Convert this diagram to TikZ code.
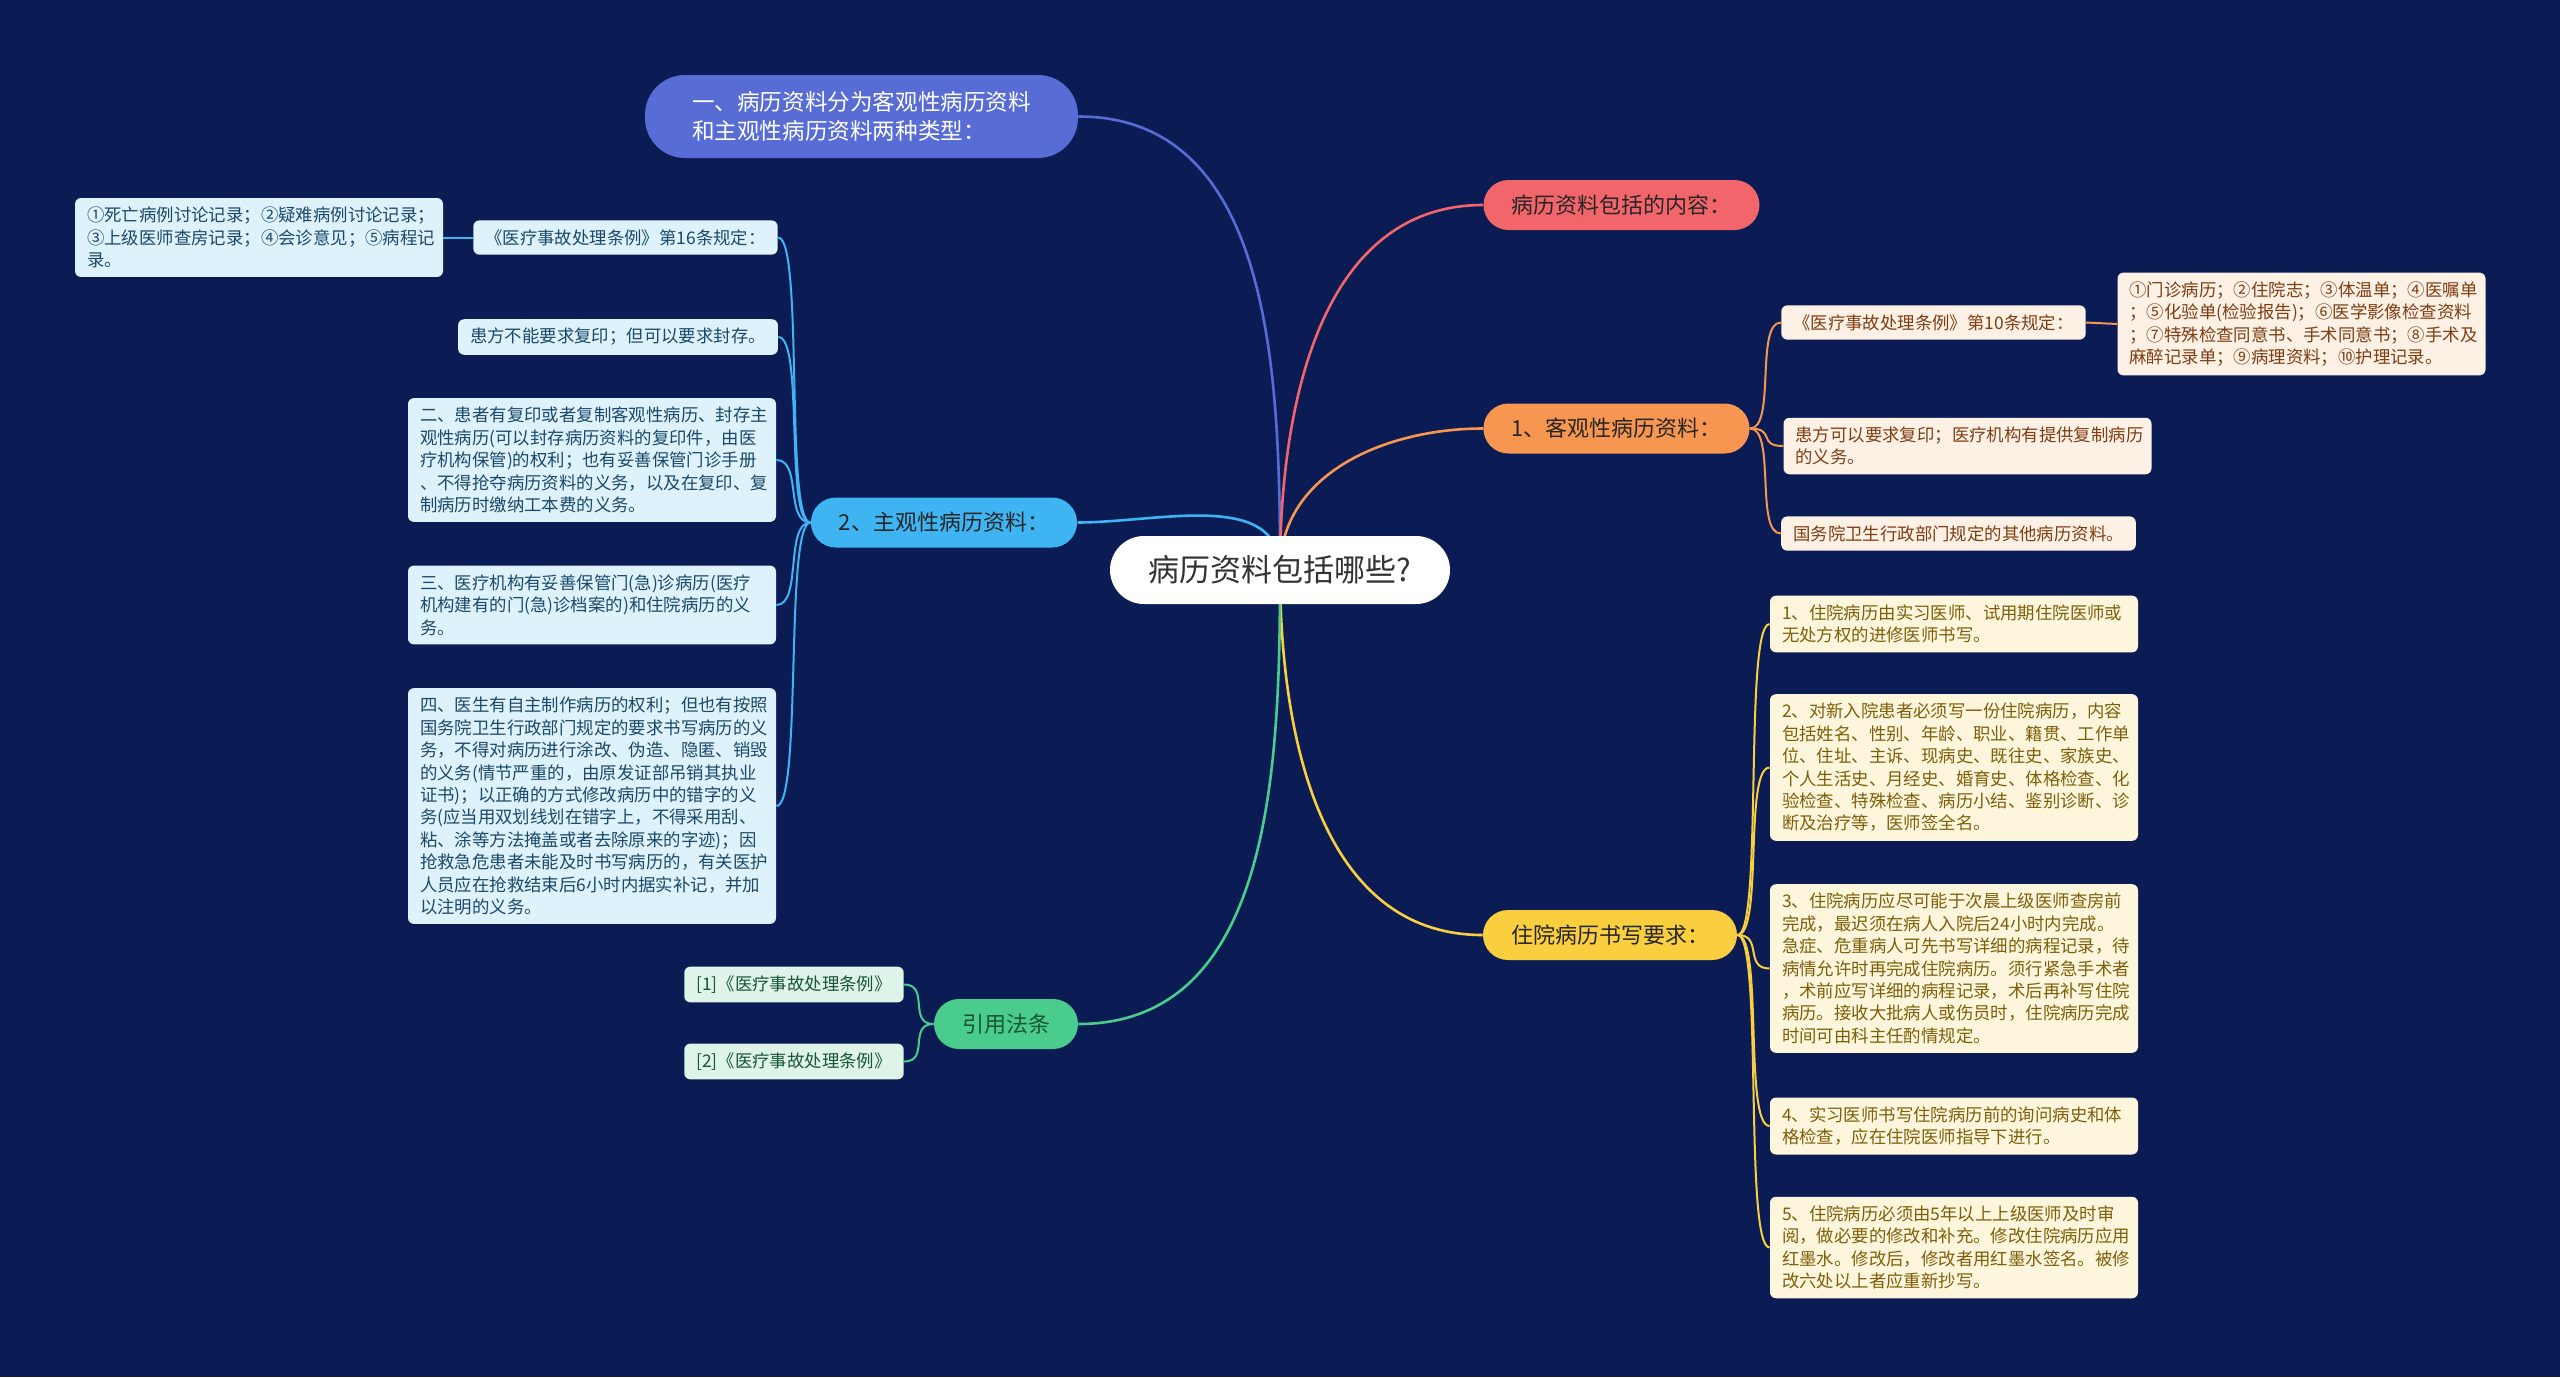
\documentclass[tikz,border=0pt]{standalone}
\usepackage{fontspec}
\setmainfont{Noto Sans CJK SC}
\definecolor{bgnavy}{RGB}{11,28,85}
\definecolor{c1}{RGB}{88,108,214}
\definecolor{c2}{RGB}{242,101,106}
\definecolor{c3}{RGB}{247,150,80}
\definecolor{c4}{RGB}{249,207,64}
\definecolor{c5}{RGB}{62,180,242}
\definecolor{c6}{RGB}{74,205,140}
\definecolor{f3}{RGB}{253,240,228}
\definecolor{f4}{RGB}{254,246,220}
\definecolor{f5}{RGB}{221,242,251}
\definecolor{f6}{RGB}{222,244,233}
\definecolor{t3}{RGB}{125,62,20}
\definecolor{t4}{RGB}{125,95,10}
\definecolor{t5}{RGB}{28,72,105}
\definecolor{t6}{RGB}{25,85,55}
\pgfdeclarelayer{edges}
\pgfsetlayers{edges,main}

\begin{document}
\begin{tikzpicture}
[every node/.style={inner sep=0pt},
 root/.style={rounded corners=17pt, minimum width=170pt, minimum height=34pt, fill=white, text=black!80, font=\fontsize{15.5}{18}\selectfont},
 branch/.style={rounded corners=12.5pt, minimum height=25pt, inner xsep=14pt, text=black!85, font=\fontsize{11}{13}\selectfont},
 leaf/.style={rounded corners=3pt, inner xsep=6pt, inner ysep=4.5pt, align=left, font=\fontsize{8.7}{11.2}\selectfont},
 wideleaf/.style={leaf, text width=172pt},
 limb/.style={line width=1.3pt},
 twig/.style={line width=1pt, distance=13pt}]
\useasboundingbox (0pt,0pt) rectangle (1280pt,-688.5pt);
% centre and main branches
\node (root) [root] at (640pt, -285pt) {病历资料包括哪些?};
\node (kinds) [branch, fill=c1, text=white, align=left, rounded corners=20pt, inner xsep=21pt, minimum width=216.5pt, minimum height=41.5pt, font=\fontsize{11.3}{14.7}\selectfont] at (430.75pt, -58.25pt) {一、病历资料分为客观性病历资料\\和主观性病历资料两种类型：};
\node (content) [branch, fill=c2] at (810.75pt, -102.5pt) {病历资料包括的内容：};
\node (objective) [branch, fill=c3] at (808.25pt, -214.25pt) {1、客观性病历资料：};
\node (inpatient) [branch, fill=c4] at (805pt, -467.5pt) {住院病历书写要求：};
\node (subjective) [branch, fill=c5] at (472pt, -261.25pt) {2、主观性病历资料：};
\node (laws) [branch, fill=c6, text=t6] at (503pt, -512pt) {引用法条};
% objective records
\node (obj10) [leaf, fill=f3, text=t3] at (966.75pt, -161.25pt) {《医疗事故处理条例》第10条规定：};
\node (objlist) [wideleaf, fill=f3, text=t3] at (1150.75pt, -162pt) {①门诊病历；②住院志；③体温单；④医嘱单\\；⑤化验单(检验报告)；⑥医学影像检查资料\\；⑦特殊检查同意书、手术同意书；⑧手术及\\麻醉记录单；⑨病理资料；⑩护理记录。};
\node (objcopy) [wideleaf, fill=f3, text=t3] at (983.75pt, -223pt) {患方可以要求复印；医疗机构有提供复制病历\\的义务。};
\node (objother) [leaf, fill=f3, text=t3] at (979.25pt, -266.75pt) {国务院卫生行政部门规定的其他病历资料。};
% inpatient records
\node (inp1) [wideleaf, fill=f4, text=t4] at (977pt, -312pt) {1、住院病历由实习医师、试用期住院医师或\\无处方权的进修医师书写。};
\node (inp2) [wideleaf, fill=f4, text=t4] at (977pt, -383.75pt) {2、对新入院患者必须写一份住院病历，内容\\包括姓名、性别、年龄、职业、籍贯、工作单\\位、住址、主诉、现病史、既往史、家族史、\\个人生活史、月经史、婚育史、体格检查、化\\验检查、特殊检查、病历小结、鉴别诊断、诊\\断及治疗等，医师签全名。};
\node (inp3) [wideleaf, fill=f4, text=t4] at (977pt, -484.25pt) {3、住院病历应尽可能于次晨上级医师查房前\\完成，最迟须在病人入院后24小时内完成。\\急症、危重病人可先书写详细的病程记录，待\\病情允许时再完成住院病历。须行紧急手术者\\，术前应写详细的病程记录，术后再补写住院\\病历。接收大批病人或伤员时，住院病历完成\\时间可由科主任酌情规定。};
\node (inp4) [wideleaf, fill=f4, text=t4] at (977pt, -563pt) {4、实习医师书写住院病历前的询问病史和体\\格检查，应在住院医师指导下进行。};
\node (inp5) [wideleaf, fill=f4, text=t4] at (977pt, -623.75pt) {5、住院病历必须由5年以上上级医师及时审\\阅，做必要的修改和补充。修改住院病历应用\\红墨水。修改后，修改者用红墨水签名。被修\\改六处以上者应重新抄写。};
% subjective records
\node (sub16) [leaf, fill=f5, text=t5] at (312.75pt, -118.75pt) {《医疗事故处理条例》第16条规定：};
\node (sublist) [wideleaf, fill=f5, text=t5] at (129.5pt, -118.75pt) {①死亡病例讨论记录；②疑难病例讨论记录；\\③上级医师查房记录；④会诊意见；⑤病程记\\录。};
\node (subseal) [leaf, fill=f5, text=t5] at (309pt, -168.5pt) {患方不能要求复印；但可以要求封存。};
\node (sub2) [wideleaf, fill=f5, text=t5] at (296pt, -230pt) {二、患者有复印或者复制客观性病历、封存主\\观性病历(可以封存病历资料的复印件，由医\\疗机构保管)的权利；也有妥善保管门诊手册\\、不得抢夺病历资料的义务，以及在复印、复\\制病历时缴纳工本费的义务。};
\node (sub3) [wideleaf, fill=f5, text=t5] at (296pt, -302.5pt) {三、医疗机构有妥善保管门(急)诊病历(医疗\\机构建有的门(急)诊档案的)和住院病历的义\\务。};
\node (sub4) [wideleaf, fill=f5, text=t5] at (296pt, -403pt) {四、医生有自主制作病历的权利；但也有按照\\国务院卫生行政部门规定的要求书写病历的义\\务，不得对病历进行涂改、伪造、隐匿、销毁\\的义务(情节严重的，由原发证部吊销其执业\\证书)；以正确的方式修改病历中的错字的义\\务(应当用双划线划在错字上，不得采用刮、\\粘、涂等方法掩盖或者去除原来的字迹)；因\\抢救急危患者未能及时书写病历的，有关医护\\人员应在抢救结束后6小时内据实补记，并加\\以注明的义务。};
% cited laws
\node (law1) [leaf, fill=f6, text=t6] at (397pt, -492.25pt) {[1]《医疗事故处理条例》};
\node (law2) [leaf, fill=f6, text=t6] at (397pt, -530.75pt) {[2]《医疗事故处理条例》};
\begin{pgfonlayer}{edges}
\fill [bgnavy] (0pt,0pt) rectangle (1280pt,-688.5pt);
\draw [limb, color=c1] (root.center) to [out=90, in=0] (kinds.east);
\draw [limb, color=c2] (root.center) to [out=90, in=180] (content.west);
\draw [limb, color=c3] (root.center) to [out=90, in=180] (objective.west);
\draw [limb, color=c4] (root.center) to [out=-90, in=180] (inpatient.west);
\draw [limb, color=c5] (root.center) to [out=90, in=0] (subjective.east);
\draw [limb, color=c6] (root.center) to [out=-90, in=0] (laws.east);
\draw [twig, color=c3] (objective.east) to [out=0, in=180] (obj10.west);
\draw [twig, color=c3] (objective.east) to [out=0, in=180] (objcopy.west);
\draw [twig, color=c3] (objective.east) to [out=0, in=180] (objother.west);
\draw [twig, color=c3] (obj10.east) -- (objlist.west);
\draw [twig, color=c4] (inpatient.east) to [out=0, in=180] (inp1.west);
\draw [twig, color=c4] (inpatient.east) to [out=0, in=180] (inp2.west);
\draw [twig, color=c4] (inpatient.east) to [out=0, in=180] (inp3.west);
\draw [twig, color=c4] (inpatient.east) to [out=0, in=180] (inp4.west);
\draw [twig, color=c4] (inpatient.east) to [out=0, in=180] (inp5.west);
\draw [twig, color=c5] (subjective.west) to [out=180, in=0] (sub16.east);
\draw [twig, color=c5] (subjective.west) to [out=180, in=0] (subseal.east);
\draw [twig, color=c5] (subjective.west) to [out=180, in=0] (sub2.east);
\draw [twig, color=c5] (subjective.west) to [out=180, in=0] (sub3.east);
\draw [twig, color=c5] (subjective.west) to [out=180, in=0] (sub4.east);
\draw [twig, color=c5] (sub16.west) -- (sublist.east);
\draw [twig, color=c6] (laws.west) to [out=180, in=0] (law1.east);
\draw [twig, color=c6] (laws.west) to [out=180, in=0] (law2.east);
\end{pgfonlayer}
\end{tikzpicture}
\end{document}
